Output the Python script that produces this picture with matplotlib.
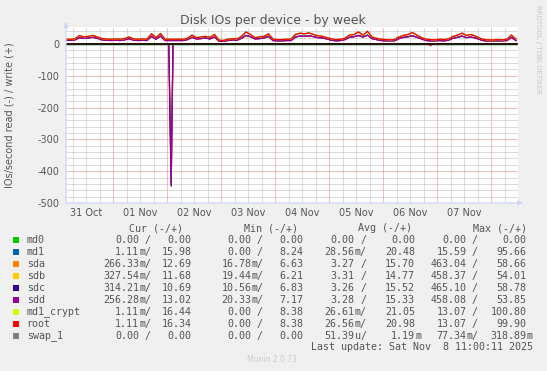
import numpy as np
import matplotlib
matplotlib.use("Agg")
import matplotlib.pyplot as plt
from matplotlib.patches import Rectangle

# ---------------- data ----------------
series_names = ["md0", "md1", "sda", "sdb", "sdc", "sdd", "md1_crypt", "root", "swap_1"]
series_colors = ["#00CC00", "#0066B3", "#FF8000", "#FFCC00", "#330099",
                 "#990099", "#CCFF00", "#FF0000", "#808080"]

write_start = "2025-10-31T03:00"
write_step_min = 120

# writes per second of the md / root devices (every 2 h)
write_md = [15, 15, 16, 27, 22, 24, 27, 22, 17, 16,
            15, 16, 15, 17, 22, 16, 15, 16, 15, 32,
            20, 33, 15, 15, 15, 15, 15, 18, 28, 20,
            22, 24, 21, 30, 12, 11, 15, 17, 16, 24,
            38, 30, 20, 22, 24, 32, 15, 14, 14, 15,
            15, 30, 34, 32, 35, 30, 26, 24, 20, 16,
            14, 15, 18, 28, 30, 38, 28, 40, 22, 18,
            15, 14, 13, 14, 22, 27, 30, 36, 28, 20,
            15, 14, 13, 15, 14, 16, 24, 28, 34, 27,
            30, 25, 18, 14, 13, 13, 14, 13, 15, 28,
            15]
# writes per second of the physical disks (every 2 h)
write_sd = [12, 12, 13, 20, 18, 19, 21, 18, 13, 12,
            11, 12, 11, 13, 17, 12, 11, 12, 11, 24,
            15, 25, 11, 11, 11, 11, 11, 14, 21, 16,
            17, 19, 16, 22, 9, 9, 11, 13, 12, 18,
            27, 23, 16, 17, 19, 24, 11, 10, 10, 11,
            11, 22, 25, 24, 26, 23, 20, 19, 16, 12,
            10, 11, 14, 21, 23, 27, 22, 28, 17, 14,
            11, 10, 10, 10, 17, 21, 23, 26, 21, 16,
            11, 10, 10, 11, 10, 12, 18, 21, 25, 20,
            22, 19, 14, 10, 10, 10, 10, 10, 11, 21,
            11]
write_zero = [0] * len(write_md)

# reads: sparse (time, value) pairs, zero elsewhere
read_sd_times = ["2025-10-31T03:00", "2025-11-02T00:40", "2025-11-02T01:15",
                 "2025-11-02T01:45", "2025-11-02T02:10", "2025-11-02T02:35",
                 "2025-11-08T11:00"]
read_sda = [0, 0, 230, 445, 210, 0, 0]
read_sdb = [0, 0, 210, 441, 230, 0, 0]
read_sdc = [0, 0, 250, 447, 190, 0, 0]
read_sdd = [0, 0, 220, 440, 220, 0, 0]
read_md_times = ["2025-10-31T03:00", "2025-11-06T20:00", "2025-11-06T21:00",
                 "2025-11-06T22:00", "2025-11-08T11:00"]
read_md = [0, 0, 5, 0, 0]
read_zero_times = ["2025-10-31T03:00", "2025-11-08T11:00"]
read_zero = [0, 0]

day_labels = ["31 Oct", "01 Nov", "02 Nov", "03 Nov", "04 Nov", "05 Nov", "06 Nov", "07 Nov"]
day_noons = ["2025-10-31T12:00", "2025-11-01T12:00", "2025-11-02T12:00", "2025-11-03T12:00",
             "2025-11-04T12:00", "2025-11-05T12:00", "2025-11-06T12:00", "2025-11-07T12:00"]
y_ticks = [-500, -400, -300, -200, -100, 0]

cur_read = ["0.00", "1.11m", "266.33m", "327.54m", "314.21m", "256.28m", "1.11m", "1.11m", "0.00"]
cur_write = ["0.00", "15.98", "12.69", "11.68", "10.69", "13.02", "16.44", "16.34", "0.00"]
min_read = ["0.00", "0.00", "16.78m", "19.44m", "10.56m", "20.33m", "0.00", "0.00", "0.00"]
min_write = ["0.00", "8.24", "6.63", "6.21", "6.83", "7.17", "8.38", "8.38", "0.00"]
avg_read = ["0.00", "28.56m", "3.27", "3.31", "3.26", "3.28", "26.61m", "26.56m", "51.39u"]
avg_write = ["0.00", "20.48", "15.70", "14.77", "15.52", "15.33", "21.05", "20.98", "1.19m"]
max_read = ["0.00", "15.59", "463.04", "458.37", "465.10", "458.08", "13.07", "13.07", "77.34m"]
max_write = ["0.00", "95.66", "58.66", "54.01", "58.78", "53.85", "100.80", "99.90", "318.89m"]

# ---------------- figure ----------------
W, H = 547, 371
plt.rcParams["axes.unicode_minus"] = False
fig = plt.figure(figsize=(W / 100, H / 100), dpi=100, facecolor="#F0F0F0")

def fx(x):
    return x / W

def fy(y):
    return 1 - y / H

ax = fig.add_axes([fx(66), fy(203), (518 - 66) / W, (203 - 27) / H])
ax.set_facecolor("white")
for s in ax.spines.values():
    s.set_visible(False)

t0 = np.datetime64("2025-10-31T03:00")
t1 = np.datetime64("2025-11-08T11:54")
ax.set_xlim(t0, t1)
ax.set_ylim(-500, 53.5)

# grid
dot = (0, (1, 1))
minor_c = "#BBBBBB"
major_c = "#E88080"
for k in range(0, 34):
    t = np.datetime64("2025-10-31T06:00") + np.timedelta64(6 * k, "h")
    if t > t1:
        break
    is_mid = (t.astype("datetime64[h]").astype(int) % 24) == 0
    ax.axvline(t, color=major_c if is_mid else minor_c, lw=0.72, ls=dot, zorder=1)
for v in range(-480, 60, 20):
    if v == 0:
        continue
    ax.axhline(v, color=major_c if v % 100 == 0 else minor_c, lw=0.72, ls=dot, zorder=1)

# series
wtimes = np.datetime64(write_start) + np.arange(len(write_md)) * np.timedelta64(write_step_min, "m")
writes = [write_zero, write_md, write_sd, write_sd, write_sd, write_sd, write_md, write_md, write_zero]
reads = [(read_zero_times, read_zero), (read_md_times, read_md),
         (read_sd_times, read_sda), (read_sd_times, read_sdb),
         (read_sd_times, read_sdc), (read_sd_times, read_sdd),
         (read_md_times, read_md), (read_md_times, read_md),
         (read_zero_times, read_zero)]
for name, col, wv, (rt, rv) in zip(series_names, series_colors, writes, reads):
    ax.plot(np.array(rt, dtype="datetime64[m]"), -np.array(rv, dtype=float),
            color=col, lw=0.9, zorder=2)
    ax.plot(wtimes, np.array(wv, dtype=float), color=col, lw=0.9, zorder=2)

ax.axhline(0, color="black", lw=1.1, zorder=3)

# axis lines with arrows
axis_c = "#CFD6F8"
ax.annotate("", xy=(1 + 5 / 452, 0), xytext=(0, 0), xycoords="axes fraction",
            arrowprops=dict(arrowstyle="-|>", color=axis_c, lw=0.9, mutation_scale=7,
                            shrinkA=0, shrinkB=0), annotation_clip=False, zorder=5)
ax.annotate("", xy=(0, 1 + 5 / 176), xytext=(0, 0), xycoords="axes fraction",
            arrowprops=dict(arrowstyle="-|>", color=axis_c, lw=0.9, mutation_scale=7,
                            shrinkA=0, shrinkB=0), annotation_clip=False, zorder=5)

# ticks
txt_c = "#555555"
ax.set_yticks(y_ticks)
ax.set_yticklabels([str(v) for v in y_ticks])
ax.set_xticks(np.array(day_noons, dtype="datetime64[m]"))
ax.set_xticklabels(day_labels)
ax.tick_params(axis="y", length=0, pad=5, labelsize=7, labelcolor=txt_c)
ax.tick_params(axis="x", length=0, pad=3.5, labelsize=7, labelcolor=txt_c)

# texts
fig.text(fx(273), fy(24), "Disk IOs per device - by week", ha="center", va="baseline",
         fontsize=9, color=txt_c)
fig.text(fx(10), fy(115), "IOs/second read (-) / write (+)", rotation=90,
         ha="center", va="center", fontsize=7, color=txt_c)
fig.text(fx(538), fy(5), "RRDTOOL / TOBI OETIKER", rotation=-90, ha="center", va="top",
         fontsize=5, color="#C8C8C8")

mono = "DejaVu Sans Mono"
fs = 7.2
for hx, htxt in zip([129, 243.5, 358.3, 472.8], ["Cur (-/+)", "Min (-/+)", "Avg (-/+)", "Max (-/+)"]):
    fig.text(fx(hx), fy(228), htxt, ha="left", va="center", family=mono, fontsize=fs, color=txt_c)

def split(v):
    if v[-1].isalpha():
        return v[:-1], v[-1]
    return v, " "

read_cols = [(139, cur_read), (251.3, min_read), (354.7, avg_read), (466.3, max_read)]
write_cols = [(191.7, cur_write), (303.3, min_write), (415, avg_write), (526.7, max_write)]
for i, (name, col) in enumerate(zip(series_names, series_colors)):
    yy = 240.3 + 11.93 * i
    fig.add_artist(Rectangle((fx(13.3), fy(yy + 3)), 6 / W, 6 / H, transform=fig.transFigure,
                             facecolor=col, edgecolor="none"))
    fig.text(fx(26.7), fy(yy), name, ha="left", va="center", family=mono, fontsize=fs, color=txt_c)
    for xr, vals in read_cols:
        num, sfx = split(vals[i])
        fig.text(fx(xr), fy(yy), num, ha="right", va="center", family=mono, fontsize=fs, color=txt_c)
        fig.text(fx(xr), fy(yy), sfx + "/", ha="left", va="center", family=mono, fontsize=fs, color=txt_c)
    for xr, vals in write_cols:
        num, sfx = split(vals[i])
        fig.text(fx(xr), fy(yy), num, ha="right", va="center", family=mono, fontsize=fs, color=txt_c)
        if sfx != " ":
            fig.text(fx(xr), fy(yy), sfx, ha="left", va="center", family=mono, fontsize=fs, color=txt_c)

fig.text(fx(533.3), fy(347.3), "Last update: Sat Nov  8 11:00:11 2025", ha="right", va="center",
         family=mono, fontsize=fs, color=txt_c)
fig.text(fx(272), fy(360), "Munin 2.0.73", ha="center", va="center", fontsize=5.5, color="#CCCCCC")

fig.savefig("out.png", dpi=100, facecolor=fig.get_facecolor())
